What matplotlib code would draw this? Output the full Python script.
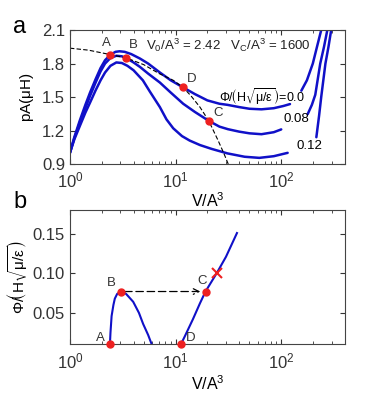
import numpy as np
import matplotlib
matplotlib.use("Agg")
import matplotlib.pyplot as plt

plt.rcParams['font.family'] = ['Liberation Sans', 'DejaVu Sans']
plt.rcParams['mathtext.default'] = 'regular'

# panel a : pA vs V/A^3 for three flux values
x_phi0 = [1.0, 1.1, 1.24, 1.4, 1.55, 1.75, 1.95, 2.15, 2.42, 2.7, 2.95, 3.3, 3.8, 4.6, 5.5,
          7.1, 9.0, 11.8, 15.2, 20, 26, 31, 40, 50, 65, 85, 105, 121]
y_phi0 = [1.0, 1.14, 1.29, 1.43, 1.54, 1.66, 1.76, 1.83, 1.88, 1.905, 1.91, 1.905, 1.885, 1.845, 1.80,
          1.72, 1.65, 1.586, 1.527, 1.47, 1.44, 1.43, 1.41, 1.395, 1.39, 1.40, 1.42, 1.437]
x_phi0_r = [155, 175, 199, 218, 239]
y_phi0_r = [1.557, 1.65, 1.8, 1.95, 2.1]

x_phi08 = [1.0, 1.1, 1.24, 1.4, 1.55, 1.75, 1.95, 2.15, 2.42, 2.75, 3.1, 3.43, 4.0, 4.6, 5.5,
           7.1, 9.0, 11.8, 15.2, 20.6, 26, 31.3, 40, 50, 65, 85, 100]
y_phi08 = [1.0, 1.13, 1.27, 1.40, 1.51, 1.63, 1.73, 1.80, 1.85, 1.87, 1.865, 1.848, 1.81, 1.77, 1.71,
           1.63, 1.54, 1.44, 1.367, 1.287, 1.235, 1.212, 1.19, 1.175, 1.167, 1.185, 1.21]
x_phi08_r = [178, 195, 210, 234, 254, 273]
y_phi08_r = [1.347, 1.43, 1.52, 1.8, 1.95, 2.1]

x_phi12 = [1.0, 1.1, 1.24, 1.4, 1.55, 1.75, 1.95, 2.15, 2.42, 2.75, 3.1, 3.5, 4.0, 4.9, 5.7,
           7.1, 8.2, 9.5, 11.5, 13.6, 17, 22, 31, 45, 62, 85, 115]
y_phi12 = [1.0, 1.12, 1.24, 1.36, 1.45, 1.56, 1.65, 1.72, 1.78, 1.81, 1.805, 1.78, 1.74, 1.65, 1.55,
           1.41, 1.30, 1.22, 1.15, 1.11, 1.07, 1.035, 0.995, 0.965, 0.955, 0.97, 1.0]
x_phi12_r = [215, 228, 239, 262, 280, 297]
y_phi12_r = [1.14, 1.33, 1.5, 1.8, 1.95, 2.1]

x_dash = [1.0, 1.5, 2.42, 3.43, 5.0, 7.0, 9.5, 11.8, 14.0, 17.0, 20.6, 25.0, 28.5, 31.5]
y_dash = [1.938, 1.92, 1.88, 1.85, 1.79, 1.71, 1.65, 1.586, 1.51, 1.41, 1.287, 1.12, 1.0, 0.9]

pts_a_x = [2.42, 3.43, 11.8, 20.6]
pts_a_y = [1.88, 1.848, 1.586, 1.287]
pts_a_lab = ['A', 'B', 'D', 'C']

# panel b : flux vs V/A^3
x_ab = [2.39, 2.42, 2.48, 2.58, 2.66, 2.8, 3.03, 3.4, 3.97, 4.5, 4.93, 5.5, 5.93]
y_ab = [0.01, 0.025, 0.046, 0.06, 0.068, 0.074, 0.077, 0.074, 0.064, 0.05, 0.036, 0.022, 0.0105]
x_dc = [11.2, 12.2, 14.6, 17.0, 19.2, 24.7, 30.0, 38.1]
y_dc = [0.01, 0.02, 0.042, 0.062, 0.077, 0.101, 0.121, 0.151]

pts_b_x = [2.39, 3.03, 19.2, 11.2]
pts_b_y = [0.01, 0.077, 0.077, 0.01]
pts_b_lab = ['A', 'B', 'C', 'D']
x_cross, y_cross = 24.7, 0.101

blue = '#1010c8'
red = '#ee2020'

fig = plt.figure(figsize=(3.70, 4.01), dpi=100)
ax1 = fig.add_axes([0.189, 0.591, 0.743, 0.334])
ax2 = fig.add_axes([0.189, 0.141, 0.743, 0.335])

for xs, ys in [(x_phi0, y_phi0), (x_phi0_r, y_phi0_r), (x_phi08, y_phi08), (x_phi08_r, y_phi08_r),
               (x_phi12, y_phi12), (x_phi12_r, y_phi12_r)]:
    ax1.plot(xs, ys, color=blue, lw=1.8, solid_capstyle='round')
ax1.plot(x_dash, y_dash, 'k--', lw=0.8, dashes=(4, 2))
ax1.plot(pts_a_x, pts_a_y, 'o', color=red, ms=5, zorder=5)
offs = {'A': (-3, 4), 'B': (2, 5), 'D': (3, 2), 'C': (3, 1)}
for px, py, lab in zip(pts_a_x, pts_a_y, pts_a_lab):
    ax1.annotate(lab, (px, py), xytext=offs[lab], textcoords='offset points',
                 fontsize=9.5, color='#333333', ha='left' if lab != 'A' else 'center', va='bottom')

ax1.text(5.3, 1.96, r'$V_0/A^3$ = 2.42   $V_C/A^3$ = 1600', fontsize=9.5, color='#222222', va='center')
ax1.text(166, 1.50, r'$\Phi/\!\left(H\sqrt{\mu/\varepsilon}\right)$=0.0', fontsize=9, ha='right', va='center')
ax1.text(140, 1.30, '0.08', fontsize=9.5, ha='center', va='center')
ax1.text(185, 1.06, '0.12', fontsize=9.5, ha='center', va='center')

ax1.set_xscale('log')
ax1.set_xlim(1, 400)
ax1.set_ylim(0.9, 2.1)
ax1.set_yticks([0.9, 1.2, 1.5, 1.8, 2.1])
ax1.set_yticklabels(['0.9', '1.2', '1.5', '1.8', '2.1'])
ax1.set_xlabel(r'V/A$^3$', fontsize=11.5, labelpad=0)
ax1.set_ylabel(r'pA($\mu$H)', fontsize=11, labelpad=4)

ax2.plot(x_ab, y_ab, color=blue, lw=1.5)
ax2.plot(x_dc, y_dc, color=blue, lw=1.5)
ax2.annotate('', xy=(18.2, 0.077), xytext=(3.1, 0.077),
             arrowprops=dict(arrowstyle='->', color='k', lw=0.9, linestyle=(0, (6, 3))))
ax2.plot(pts_b_x, pts_b_y, 'o', color=red, ms=5, zorder=5, clip_on=False)
ax2.plot([x_cross], [y_cross], 'x', color=red, ms=7, mew=1.5, zorder=5)
offs_b = {'A': (-10, 0), 'B': (-10, 2), 'C': (-6, 3), 'D': (4, 0)}
for px, py, lab in zip(pts_b_x, pts_b_y, pts_b_lab):
    ax2.annotate(lab, (px, py), xytext=offs_b[lab], textcoords='offset points',
                 fontsize=9.5, color='#333333', ha='left', va='bottom')

ax2.set_xscale('log')
ax2.set_xlim(1, 400)
ax2.set_ylim(0.01, 0.18)
ax2.set_yticks([0.05, 0.10, 0.15])
ax2.set_yticklabels(['0.05', '0.10', '0.15'])
ax2.set_xlabel(r'V/A$^3$', fontsize=11.5, labelpad=2)
ax2.set_ylabel(r'$\Phi/\!\left(H\sqrt{\mu/\varepsilon}\right)$', fontsize=11, labelpad=2)

for ax in (ax1, ax2):
    ax.tick_params(which='both', direction='in', top=True, right=True, labelsize=12, colors='#333333')
    ax.tick_params(which='major', length=3.5)
    ax.tick_params(which='minor', length=2)
    ax.tick_params(axis='x', pad=5)
    for s in ax.spines.values():
        s.set_color('#444444')
        s.set_linewidth(0.8)

fig.text(0.035, 0.918, 'a', fontsize=17)
fig.text(0.035, 0.482, 'b', fontsize=17)

fig.savefig('out.png', dpi=100)
